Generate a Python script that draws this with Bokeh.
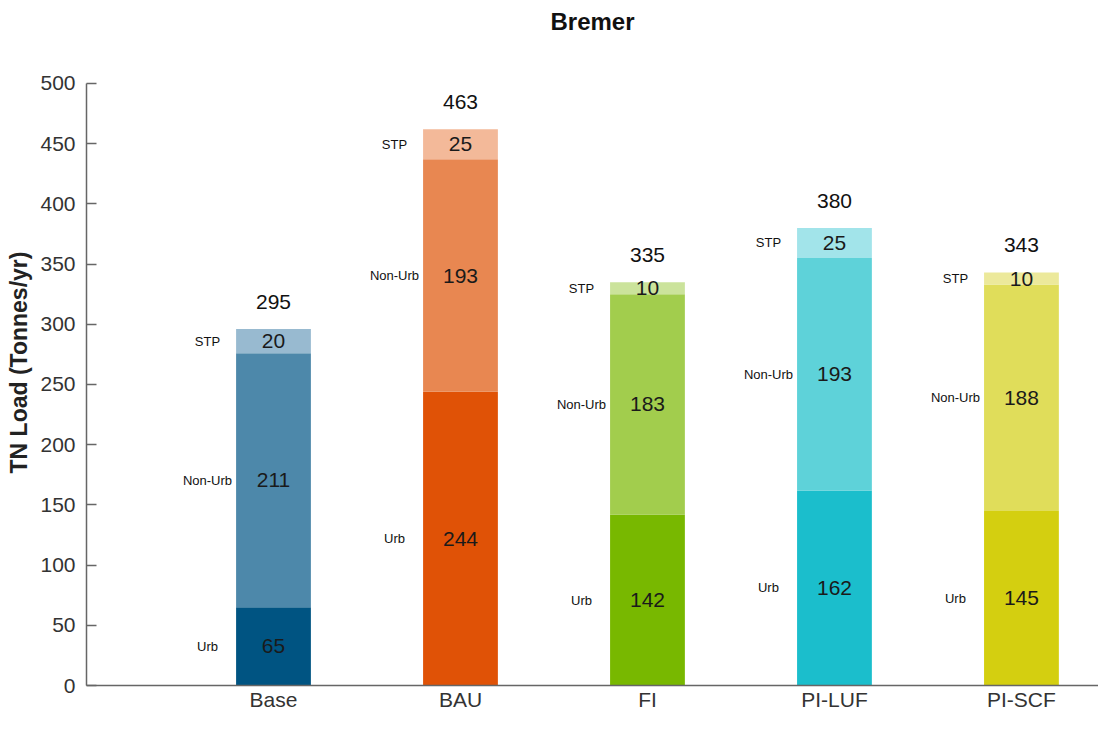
from bokeh.plotting import figure
from bokeh.models import Range1d, FixedTicker, ColumnDataSource
from bokeh.core.properties import value
from bokeh.embed import file_html
from bokeh.resources import INLINE

scenarios = ["Base", "BAU", "FI", "PI-LUF", "PI-SCF"]
urb = [65, 244, 142, 162, 145]
non_urb = [211, 193, 183, 193, 188]
stp = [20, 25, 10, 25, 10]
totals = [295, 463, 335, 380, 343]
urb_colors = ["#005482", "#e05206", "#78b800", "#1bbecc", "#d4cf10"]
non_urb_colors = ["#4d88aa", "#e88751", "#a2cd4d", "#5ed2d9", "#e0dd5a"]
stp_colors = ["#98bad0", "#f3b999", "#cbe39b", "#a2e4ea", "#ece99b"]

FONT = value("Liberation Sans")

xs = list(range(1, len(scenarios) + 1))

p = figure(width=1098, height=713, output_backend="svg", toolbar_location=None,
           x_range=Range1d(0, 5.412), y_range=Range1d(0, 536.5),
           min_border_left=86, min_border_right=0, min_border_top=38,
           min_border_bottom=26, title="Bremer")
p.title.align = "center"
p.title.text_font = "Liberation Sans"
p.title.text_font_size = "24px"
p.title.text_font_style = "bold"
p.title.text_color = "#111111"
p.outline_line_color = None
p.xgrid.visible = False
p.ygrid.visible = False

bottoms_nu = [u for u in urb]
bottoms_stp = [u + n for u, n in zip(urb, non_urb)]
tops = [u + n + s for u, n, s in zip(urb, non_urb, stp)]

layers = [
    (urb, [0] * len(urb), urb_colors, "Urb"),
    (non_urb, bottoms_nu, non_urb_colors, "Non-Urb"),
    (stp, bottoms_stp, stp_colors, "STP"),
]

bw = 0.40
for vals, bots, cols, name in layers:
    src = ColumnDataSource(dict(
        x=xs, bottom=bots, top=[b + v for b, v in zip(bots, vals)],
        mid=[b + v / 2 for b, v in zip(bots, vals)],
        color=cols, txt=[str(v) for v in vals],
        name=[name] * len(vals), xl=[x - 0.353 for x in xs]))
    p.vbar(x="x", bottom="bottom", top="top", width=bw, fill_color="color",
           line_color=None, source=src)
    p.text(x="x", y="mid", text="txt", source=src, text_align="center",
           text_baseline="middle", text_font=FONT, text_font_size="21px",
           text_color="#1a1a1a")
    p.text(x="xl", y="mid", text="name", source=src, text_align="center",
           text_baseline="middle", text_font=FONT, text_font_size="13px",
           text_color="#111111")

tsrc = ColumnDataSource(dict(x=xs, y=tops, txt=[str(t) for t in totals]))
p.text(x="x", y="y", text="txt", source=tsrc, text_align="center",
       text_baseline="middle", y_offset=-27, text_font=FONT,
       text_font_size="21px", text_color="#111111")

# axes
p.yaxis.bounds = (0, 500)
p.yaxis.ticker = FixedTicker(ticks=list(range(0, 501, 50)))
p.yaxis.minor_tick_line_color = None
p.yaxis.major_tick_in = 10
p.yaxis.major_tick_out = 0
p.yaxis.major_tick_line_color = "#666666"
p.yaxis.major_tick_line_width = 1.5
p.yaxis.axis_line_color = "#666666"
p.yaxis.axis_line_width = 1.5
p.yaxis.major_label_text_font = "Liberation Sans"
p.yaxis.major_label_text_font_size = "21px"
p.yaxis.major_label_text_color = "#333333"
p.yaxis.major_label_standoff = 11
p.yaxis.axis_label = "TN Load (Tonnes/yr)"
p.yaxis.axis_label_text_font = "Liberation Sans"
p.yaxis.axis_label_text_font_size = "23px"
p.yaxis.axis_label_text_font_style = "bold"
p.yaxis.axis_label_text_color = "#222222"
p.yaxis.axis_label_standoff = 5

p.xaxis.ticker = FixedTicker(ticks=xs)
p.xaxis.major_label_overrides = {x: s for x, s in zip(xs, scenarios)}
p.xaxis.minor_tick_line_color = None
p.xaxis.major_tick_line_color = None
p.xaxis.major_tick_in = 0
p.xaxis.major_tick_out = 0
p.xaxis.axis_line_color = "#666666"
p.xaxis.axis_line_width = 1.5
p.xaxis.major_label_text_font = "Liberation Sans"
p.xaxis.major_label_text_font_size = "21px"
p.xaxis.major_label_text_color = "#333333"
p.xaxis.major_label_standoff = 2

open("out.html", "w").write(file_html(p, INLINE))
